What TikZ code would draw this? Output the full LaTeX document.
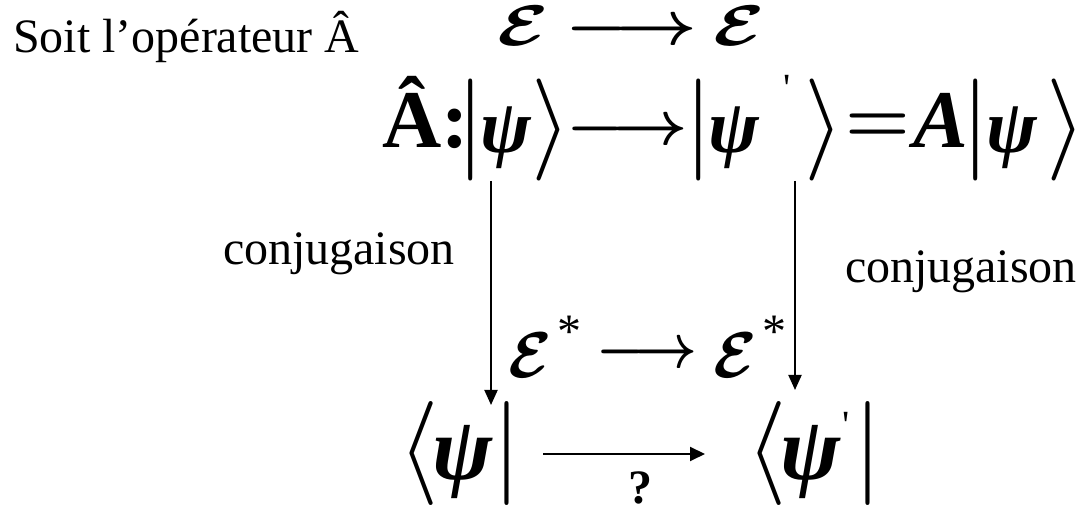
\RequirePackage{fix-cm}
\documentclass[tikz,border=0pt]{standalone}
\usepackage{amsmath}
\usepackage{graphicx}
\usepackage{fontspec}
\setmainfont{Liberation Serif}
\usetikzlibrary{arrows.meta}
\delimiterfactor=1000
\delimitershortfall=0pt
\newcommand\bpsi[2]{\raisebox{#2}{\fontsize{#1}{#1}\selectfont\bfseries\itshape ψ}}
\newcommand\scrE{\boldsymbol{\mathcal{E}}}
\newcommand\lra[2]{\scalebox{#1}[#2]{$\boldsymbol{\longrightarrow}$}}
\newcommand\dstrut[2]{\vrule height #1 depth #2 width 0pt}
% prime: kern before, raise, kern after (no height, so delimiters keep their size)
\newcommand\prm[3]{\hbox{\kern#1\raisebox{#2}[0pt][0pt]{\fontsize{20}{20}\selectfont\textquotesingle}\kern#3}}
\newcommand\astr{\hbox{\kern3pt\raisebox{15pt}{\fontsize{24}{24}\selectfont *}}}
\tikzset{
  txt/.style={inner sep=0pt, outer sep=0pt},
  varrow/.style={line width=1pt, -{Triangle[width=6.5pt,length=7.5pt]}},
  harrow/.style={line width=1pt, -{Triangle[width=7pt,length=7.5pt]}},
  rowtwo/.style={txt, font=\fontsize{51}{56}\selectfont},
  rowbot/.style={txt, font=\fontsize{52}{58}\selectfont},
  glyph/.style={txt, font=\fontsize{24.88}{28}\selectfont},
  lbl/.style={txt, font=\fontsize{24}{28}\selectfont}
}
\begin{document}
\begin{tikzpicture}[x=0.5pt,y=-0.5pt]
\useasboundingbox (0,0) rectangle (1083,506);
% title
\node[lbl, anchor=base west] (title) at (13,53) {Soit l’opérateur Â};
% top row
\node[glyph, anchor=base west] (E1) at (497,46) {\scalebox{1.5}[1.15]{$\scrE$}};
\node[glyph] (ar1) at (631,32) {\lra{1.43}{1.25}};
\node[glyph, anchor=base west] (E2) at (713,46) {\scalebox{1.5}[1.15]{$\scrE$}};
% second row
\node[txt, anchor=base west, font=\fontsize{41}{48}\selectfont\bfseries] (Ahat) at (382,148) {Â:};
\node[rowtwo, anchor=base west] (ket1) at (456,155.5) {$\left|\dstrut{37.75pt}{12.25pt}\kern-2pt\bpsi{38}{1.5pt}\right\rangle$};
\node[glyph] (ar2) at (627,132) {\lra{1.32}{1.25}};
\node[rowtwo, anchor=base west] (ket2) at (684,155.5) {$\left|\dstrut{37.75pt}{12.25pt}\kern-2pt\bpsi{38}{1.5pt}\prm{12pt}{26.9pt}{7pt}\right\rangle$};
\node[txt, font=\fontsize{37}{40}\selectfont] (eq) at (878,128) {$\boldsymbol{=}$};
\node[rowtwo, anchor=base west] (ket3) at (913,155.5) {\raisebox{3.75pt}{\fontsize{41}{48}\selectfont\bfseries\itshape A}$\kern-3pt\left|\dstrut{37.75pt}{12.25pt}\kern-2pt\bpsi{38}{1.5pt}\kern5pt\right\rangle$};
% labels
\node[lbl, anchor=base west] (conjL) at (223,265) {conjugaison};
\node[lbl, anchor=base west] (conjR) at (845,283) {conjugaison};
% middle row
\node[glyph, anchor=base west] (Es1) at (508,378) {\scalebox{1.27}[1.3]{$\scrE$}\astr};
\node[glyph] (ar3) at (647,355) {\lra{1.1}{1.25}};
\node[glyph, anchor=base west] (Es2) at (713,378) {\scalebox{1.27}[1.3]{$\scrE$}\astr};
% bottom row
\node[rowbot, anchor=base west] (bra1) at (398,480) {$\left\langle\dstrut{38.5pt}{12.5pt}\kern-3pt\bpsi{45}{0pt}\right|$};
\node[rowbot, anchor=base west] (bra2) at (746,480) {$\left\langle\dstrut{38.5pt}{12.5pt}\kern-3pt\bpsi{45}{0pt}\prm{1pt}{20.6pt}{2pt}\right|$};
\node[txt, anchor=base, font=\fontsize{24}{28}\selectfont\bfseries] (q) at (640,504) {?};
% connectors
\coordinate (lx) at (491,0);
\coordinate (rx) at (795,0);
\draw[varrow] (ket1.south -| lx) -- ([yshift=-1.5pt]bra1.north -| lx);
\draw[varrow] (ket2.south -| rx) -- ([yshift=6pt]bra2.north -| rx);
\draw[harrow] ([xshift=11pt]bra1.east) -- ([xshift=-20.5pt]bra2.west);
\end{tikzpicture}
\end{document}
